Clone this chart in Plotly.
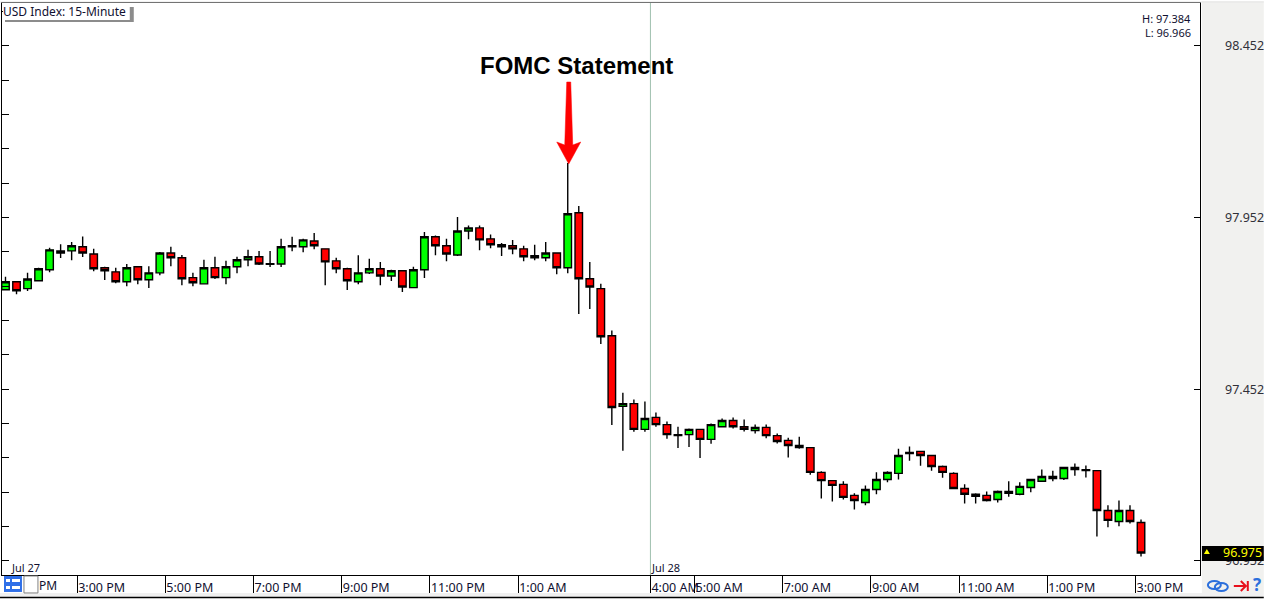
from plotly.graph_objects import Candlestick, Figure, Scatter

# USD Index, 15-minute candles, Jul 27 to Jul 28
opens = [
    97.742, 97.765, 97.745, 97.768, 97.800, 97.849, 97.855, 97.867, 97.846, 97.806,
    97.794, 97.765, 97.809, 97.771, 97.791, 97.849, 97.835, 97.777, 97.759, 97.806,
    97.777, 97.809, 97.829, 97.838, 97.818, 97.817, 97.867, 97.867, 97.884, 97.861,
    97.826, 97.803, 97.765, 97.791, 97.803, 97.782, 97.797, 97.748, 97.800, 97.896,
    97.870, 97.843, 97.913, 97.922, 97.890, 97.873, 97.870, 97.861, 97.835, 97.835,
    97.849, 97.806, 97.966, 97.774, 97.745, 97.608, 97.402, 97.410, 97.335, 97.370,
    97.349, 97.320, 97.320, 97.335, 97.306, 97.343, 97.361, 97.343, 97.332, 97.341,
    97.317, 97.303, 97.288, 97.282, 97.210, 97.186, 97.175, 97.143, 97.122, 97.160,
    97.189, 97.207, 97.265, 97.271, 97.259, 97.227, 97.207, 97.163, 97.146, 97.143,
    97.131, 97.154, 97.146, 97.166, 97.184, 97.198, 97.192, 97.224, 97.218, 97.215,
    97.099, 97.067, 97.099, 97.064,
]
highs = [
    97.780, 97.765, 97.791, 97.806, 97.864, 97.874, 97.881, 97.897, 97.861, 97.809,
    97.806, 97.817, 97.811, 97.810, 97.852, 97.867, 97.843, 97.791, 97.829, 97.838,
    97.826, 97.838, 97.858, 97.855, 97.855, 97.890, 97.896, 97.890, 97.907, 97.861,
    97.835, 97.806, 97.842, 97.832, 97.823, 97.800, 97.797, 97.809, 97.910, 97.900,
    97.890, 97.954, 97.929, 97.929, 97.903, 97.878, 97.887, 97.870, 97.873, 97.881,
    97.849, 98.111, 97.986, 97.823, 97.759, 97.623, 97.442, 97.422, 97.416, 97.384,
    97.358, 97.343, 97.338, 97.335, 97.352, 97.367, 97.370, 97.364, 97.349, 97.349,
    97.323, 97.311, 97.314, 97.282, 97.213, 97.186, 97.184, 97.149, 97.172, 97.210,
    97.213, 97.279, 97.285, 97.271, 97.259, 97.230, 97.210, 97.175, 97.149, 97.154,
    97.157, 97.184, 97.181, 97.189, 97.218, 97.215, 97.224, 97.236, 97.230, 97.215,
    97.114, 97.128, 97.114, 97.073,
]
lows = [
    97.742, 97.729, 97.738, 97.768, 97.793, 97.834, 97.828, 97.837, 97.796, 97.770,
    97.761, 97.752, 97.758, 97.747, 97.784, 97.810, 97.755, 97.752, 97.759, 97.773,
    97.758, 97.790, 97.810, 97.814, 97.808, 97.808, 97.854, 97.851, 97.860, 97.755,
    97.790, 97.741, 97.758, 97.788, 97.755, 97.767, 97.735, 97.748, 97.776, 97.842,
    97.825, 97.840, 97.889, 97.857, 97.863, 97.840, 97.845, 97.825, 97.828, 97.825,
    97.787, 97.790, 97.671, 97.686, 97.584, 97.348, 97.273, 97.328, 97.328, 97.343,
    97.308, 97.281, 97.284, 97.252, 97.293, 97.341, 97.338, 97.329, 97.323, 97.309,
    97.294, 97.253, 97.279, 97.203, 97.134, 97.125, 97.131, 97.102, 97.114, 97.146,
    97.181, 97.189, 97.244, 97.229, 97.215, 97.194, 97.163, 97.119, 97.119, 97.125,
    97.122, 97.139, 97.143, 97.152, 97.184, 97.184, 97.188, 97.200, 97.195, 97.023,
    97.050, 97.053, 97.061, 96.965,
]
closes = [
    97.765, 97.739, 97.773, 97.803, 97.858, 97.855, 97.870, 97.849, 97.803, 97.797,
    97.765, 97.806, 97.771, 97.791, 97.849, 97.835, 97.774, 97.762, 97.806, 97.777,
    97.809, 97.829, 97.838, 97.817, 97.816, 97.867, 97.870, 97.887, 97.870, 97.823,
    97.803, 97.768, 97.791, 97.803, 97.782, 97.797, 97.750, 97.800, 97.896, 97.870,
    97.846, 97.913, 97.922, 97.887, 97.873, 97.867, 97.861, 97.838, 97.841, 97.849,
    97.806, 97.963, 97.774, 97.750, 97.605, 97.399, 97.410, 97.335, 97.367, 97.349,
    97.320, 97.317, 97.335, 97.306, 97.349, 97.361, 97.343, 97.335, 97.341, 97.317,
    97.300, 97.288, 97.282, 97.210, 97.186, 97.172, 97.137, 97.128, 97.160, 97.189,
    97.210, 97.259, 97.268, 97.259, 97.227, 97.210, 97.163, 97.146, 97.140, 97.128,
    97.154, 97.149, 97.169, 97.189, 97.198, 97.192, 97.224, 97.218, 97.215, 97.099,
    97.070, 97.099, 97.067, 96.975,
]
candle_index = list(range(len(opens)))

time_ticks = [6.5, 14.5, 22.5, 30.5, 38.5, 46.5, 58.5, 62.5, 70.5, 78.5, 86.5, 94.5, 102.5]
time_labels = [
    "3:00 PM", "5:00 PM", "7:00 PM", "9:00 PM", "11:00 PM", "1:00 AM", "4:00 AM",
    "5:00 AM", "7:00 AM", "9:00 AM", "11:00 AM", "1:00 PM", "3:00 PM",
]
price_ticks = [98.452, 97.952, 97.452, 96.952]
price_labels = ["98.452", "97.952", "97.452", "96.952"]
session_high = "H: 97.384"
session_low = "L: 96.966"
last_price = "96.975"
fomc_candle = 51
new_day_candle = 58.5

UI_FONT = "Noto Sans"
WIDTH, HEIGHT = 1266, 600
LEFT, RIGHT, TOP, BOTTOM = 2, 1205, 2, 575
PRICE_RANGE = [96.911, 98.577]


def px(x):
    # rendered picture comes out about 0.24% narrower than the layout width
    return (x * 1.0024 - LEFT) / (RIGHT - LEFT)


def py(y):
    return (BOTTOM - y) / (BOTTOM - TOP)


def box(x0, y0, x1, y1, fill, line=None, layer="above"):
    return dict(
        type="rect", xref="paper", yref="paper", layer=layer,
        x0=px(x0), x1=px(x1), y0=py(y0), y1=py(y1),
        fillcolor=fill, line=dict(color=line or fill, width=1 if line else 0),
    )


def hline(x0, x1, y, color, width=1):
    return dict(
        type="line", xref="paper", yref="paper", layer="above",
        x0=px(x0), x1=px(x1), y0=py(y), y1=py(y), line=dict(color=color, width=width),
    )


def label(x, y, text, color="#101030", size=12, anchor="left", family=UI_FONT):
    return dict(
        xref="paper", yref="paper", x=px(x), y=py(y), text=text, showarrow=False,
        xanchor=anchor, yanchor="middle", borderpad=0,
        font=dict(family=family, size=size, color=color),
    )


fig = Figure()
fig.add_trace(
    Candlestick(
        x=candle_index, open=opens, high=highs, low=lows, close=closes,
        whiskerwidth=0,
        increasing=dict(fillcolor="#00ff00", line=dict(color="black", width=1.4)),
        decreasing=dict(fillcolor="#ff0000", line=dict(color="black", width=1.4)),
        hoverinfo="skip",
    )
)
# invisible copy so the right-hand price axis gets drawn
fig.add_trace(
    Scatter(x=candle_index, y=closes, yaxis="y2", mode="lines", opacity=0,
            hoverinfo="skip", showlegend=False)
)

shapes = [
    box(1204, 0, WIDTH, 593, "#f1f1ef", layer="below"),
    box(0, 593, WIDTH, 597, "#f0f0f0"),
    hline(0, WIDTH, 597.5, "black", 1.5),
    hline(0, WIDTH, 1, "#e6e6e6", 1),
    # FOMC arrow, anchored on the candle's high
    dict(
        type="path", xref="x", yref="y", xsizemode="pixel", ysizemode="pixel",
        xanchor=fomc_candle, yanchor=highs[fomc_candle], layer="above",
        path="M 1 -1 L -11 21 L -3 18 L -1 81 L 3 81 L 5 18 L 13 21 Z",
        fillcolor="#ff0000", line=dict(color="#ff0000", width=0.5),
    ),
    # day separator
    dict(
        type="line", xref="x", yref="paper", layer="below",
        x0=new_day_candle, x1=new_day_candle, y0=0, y1=1,
        line=dict(color="#9fc0ae", width=1),
    ),
    # title tag with its drop shadow
    box(5, 6, 134, 21, "#8c8c8c"),
    box(3, 4, 130, 19, "white"),
    # last price tag
    box(1204, 546, WIDTH, 561, "black"),
    dict(
        type="path", xref="paper", yref="paper", layer="above",
        path=f"M {px(1206)} {py(554)} L {px(1212)} {py(554)} L {px(1209)} {py(549)} Z",
        fillcolor="#ffff00", line=dict(width=0),
    ),
    # toolbar buttons, bottom left
    box(4, 576, 22, 592, "#2f6fe8"),
    box(6, 579, 10, 582, "white"),
    box(12, 579, 20, 582, "white"),
    box(6, 586, 10, 589, "white"),
    box(12, 586, 20, 589, "white"),
    box(24, 576, 38, 593, "white", "#808080"),
    # toolbar icons, bottom right
    dict(type="circle", xref="paper", yref="paper", layer="above",
         x0=px(1210), x1=px(1223), y0=py(589), y1=py(581),
         line=dict(color="#2b6fdc", width=2)),
    dict(type="circle", xref="paper", yref="paper", layer="above",
         x0=px(1217), x1=px(1230), y0=py(591), y1=py(583),
         line=dict(color="#2b6fdc", width=2)),
    dict(
        type="path", xref="paper", yref="paper", layer="above",
        path=(
            f"M {px(1236)} {py(586)} L {px(1248)} {py(586)} "
            f"M {px(1243)} {py(581)} L {px(1248)} {py(586)} L {px(1243)} {py(591)} "
            f"M {px(1250)} {py(581)} L {px(1250)} {py(591)}"
        ),
        line=dict(color="#e8101c", width=2),
    ),
]

annotations = [
    label(2, 11, "USD Index: 15-Minute", size=12),
    label(578, 65, "<b>FOMC Statement</b>", color="black", size=24, anchor="center",
          family="Liberation Sans"),
    label(1194, 18, session_high, size=11, anchor="right"),
    label(1194, 32, session_low, size=11, anchor="right"),
    label(10, 567, "Jul 27", size=11),
    label(651, 567, "Jul 28", size=11),
    label(38, 586, "PM", size=12),
    label(1265, 552.5, last_price, color="#ffff00", size=12.5, anchor="right"),
    label(1259, 585, "<b>?</b>", color="#2b6fdc", size=17, anchor="center"),
]

fig.update_layout(
    width=WIDTH, height=HEIGHT, autosize=False,
    margin=dict(l=LEFT, r=WIDTH - RIGHT, t=TOP, b=HEIGHT - BOTTOM, pad=0),
    paper_bgcolor="white", plot_bgcolor="white",
    showlegend=False, hovermode=False, boxgap=0.32, boxgroupgap=0,
    shapes=shapes, annotations=annotations,
    xaxis=dict(
        range=[-0.317, 108.35], rangeslider=dict(visible=False), showgrid=False, zeroline=False,
        tickmode="array", tickvals=time_ticks, ticktext=time_labels, tickangle=0,
        ticks="outside", ticklen=18, tickcolor="black", tickwidth=1,
        ticklabelposition="outside right", ticklabelstandoff=1,
        tickfont=dict(family=UI_FONT, size=12.5, color="#101030"),
        showline=True, linecolor="black", linewidth=1, mirror=True,
    ),
    yaxis=dict(
        range=PRICE_RANGE, side="left", showgrid=False, zeroline=False,
        tick0=96.952, dtick=0.1, ticks="inside", ticklen=7, tickcolor="black",
        showticklabels=False,
        showline=True, linecolor="black", linewidth=1, mirror=True,
    ),
    yaxis2=dict(
        range=PRICE_RANGE, overlaying="y", side="right", anchor="x", showgrid=False,
        zeroline=False, tickmode="array", tickvals=price_ticks, ticktext=price_labels,
        ticks="inside", ticklen=6, tickcolor="black", ticklabelstandoff=24,
        tickfont=dict(family=UI_FONT, size=12.5, color="#303038"),
    ),
)

fig.write_html(
    "out.html",
    config={"displayModeBar": False},
    post_script="document.body.style.margin='0';document.body.style.overflow='hidden';",
)
